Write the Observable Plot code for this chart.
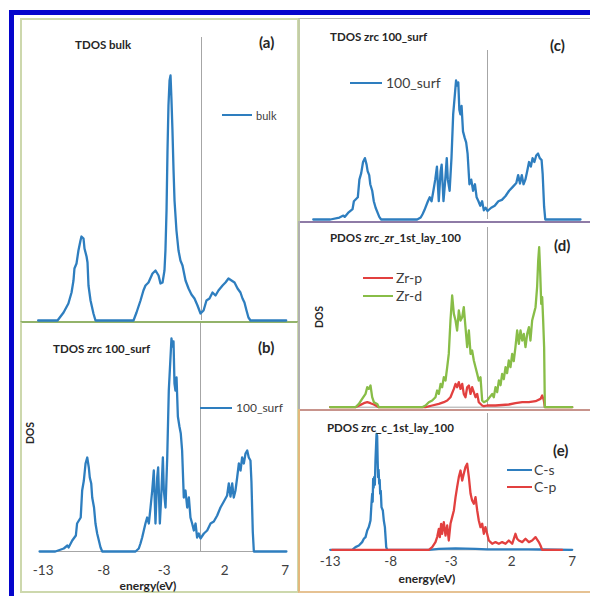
<!DOCTYPE html>
<html><head><meta charset="utf-8">
<script src="https://cdn.jsdelivr.net/npm/d3@7"></script>
<script src="https://cdn.jsdelivr.net/npm/@observablehq/plot@0.6"></script>
<style>
body{margin:0;background:#fff;}
#page{position:relative;width:590px;height:596px;overflow:hidden;font-family:Lato,"Liberation Sans",sans-serif;}
.box{position:absolute;box-sizing:border-box;}
.t{position:absolute;white-space:nowrap;line-height:1;transform:translateY(-50%);color:#262626;}
.c{transform:translate(-50%,-50%);}
.r{transform:translate(-50%,-50%) rotate(-90deg);}
.lg{position:absolute;height:2px;transform:translateY(-50%);}
.layer{position:absolute;left:0;top:0;}
</style></head><body><div id="page"></div>
<script>
// ---------- data: [energy (eV), DOS (arb. units)] ----------
const xTicks = [-13, -8, -3, 2, 7];

const bulk = [[-13.5,0],[-11.9,0],[-11.4,0.8],[-11.0,1.7],[-10.74,2.8],[-10.58,4.0],[-10.5,5.2],[-10.33,5.7],[-10.17,7.0],[-10.0,8.0],[-9.92,8.4],[-9.75,8.2],[-9.67,7.2],[-9.5,6.4],[-9.42,5.8],[-9.34,3.5],[-9.17,2.0],[-8.93,0.7],[-8.76,0],
[-5.62,0],[-5.37,0.8],[-5.04,2.0],[-4.8,3.0],[-4.63,3.5],[-4.38,3.8],[-4.05,4.7],[-3.8,5.0],[-3.55,4.5],[-3.39,3.7],[-3.22,3.8],[-3.06,5.0],[-2.98,7.0],[-2.89,11.0],[-2.81,17.0],[-2.73,21.5],[-2.64,24.0],[-2.56,24.5],[-2.48,22.0],[-2.4,19.0],[-2.31,15.0],[-2.23,12.0],[-2.07,9.0],[-1.9,7.0],[-1.74,6.0],[-1.57,5.5],[-1.32,4.0],[-1.07,3.2],[-0.83,2.6],[-0.58,2.2],[-0.33,1.5],[-0.08,0.7],
[0.17,1.0],[0.41,2.0],[0.66,2.2],[0.91,2.8],[1.16,2.5],[1.4,3.0],[1.74,3.5],[1.98,3.8],[2.23,4.2],[2.48,4.0],[2.73,3.8],[2.98,3.2],[3.22,2.8],[3.39,2.2],[3.55,1.8],[3.72,1.0],[3.88,0.3],[4.05,0],[7.0,0]];

const surf100 = [[-13.3,0],[-12.0,0],[-11.3,0.3],[-11.0,0.6],[-10.9,0.4],[-10.6,1.1],[-10.3,1.6],[-10.2,2.8],[-9.9,3.4],[-9.78,6.1],[-9.64,7.1],[-9.5,8.8],[-9.36,9.4],[-9.23,8.4],[-9.15,7.4],[-9.03,6.8],[-8.95,5.4],[-8.8,4.4],[-8.68,2.8],[-8.54,1.8],[-8.26,0.4],[-8.12,0],
[-5.37,0],[-5.1,0.3],[-4.96,0.8],[-4.82,1.4],[-4.55,2.8],[-4.41,3.4],[-4.27,2.8],[-4.13,4.4],[-3.99,6.1],[-3.86,8.1],[-3.72,2.8],[-3.58,7.4],[-3.5,8.4],[-3.36,2.8],[-3.25,5.4],[-3.11,9.4],[-3.03,6.1],[-2.89,4.4],[-2.75,9.4],[-2.62,16.1],[-2.48,19.4],[-2.4,21.3],[-2.31,20.5],[-2.23,21.0],[-2.15,16.8],[-2.07,16.1],[-1.98,17.4],[-1.87,13.5],[-1.74,12.5],[-1.63,11.8],[-1.52,10.1],[-1.38,5.4],[-1.24,6.1],[-1.1,4.4],[-0.96,5.4],[-0.83,3.4],[-0.69,2.8],[-0.55,2.1],[-0.41,2.8],[-0.28,1.4],[-0.14,1.8],[0,1.3],
[0.28,1.8],[0.55,2.1],[0.83,2.8],[1.1,3.0],[1.38,3.6],[1.65,4.4],[1.93,5.0],[2.2,5.6],[2.34,6.8],[2.48,5.5],[2.62,6.8],[2.75,5.4],[2.89,6.1],[3.03,7.4],[3.17,8.8],[3.31,8.1],[3.44,9.4],[3.58,8.8],[3.72,9.8],[3.86,10.1],[3.99,9.4],[4.13,9.1],[4.21,7.0],[4.32,2.0],[4.41,0],[7.1,0]];

const zrP = [[-13,0],[-10.91,0],[-10.5,0.23],[-10.22,0.4],[-9.94,0.5],[-9.67,0.4],[-9.39,0.27],[-8.98,0],[-5.12,0],[-4.57,0.17],[-4.02,0.33],[-3.61,0.5],[-3.33,0.67],[-3.06,1.0],[-2.78,1.83],[-2.64,2.33],[-2.51,2.0],[-2.37,2.5],[-2.23,1.83],[-2.09,2.33],[-1.96,1.33],[-1.82,1.0],[-1.68,2.0],[-1.54,2.17],[-1.4,1.33],[-1.27,2.0],[-1.13,1.5],[-0.99,1.0],[-0.85,1.33],[-0.72,0.5],[-0.44,0.17],[-0.3,0.1],[-0.03,0.17],[0.66,0.17],[1.76,0.27],[2.31,0.4],[2.87,0.5],[3.42,0.5],[3.97,0.6],[4.38,0.83],[4.52,1.17],[4.66,0.67],[4.74,0],[7,0]];

const zrD = [[-13,0],[-10.91,0],[-10.63,0.33],[-10.36,0.83],[-10.08,1.33],[-9.94,2.0],[-9.81,1.83],[-9.67,2.17],[-9.53,1.0],[-9.39,0.5],[-9.12,0.33],[-8.98,0],[-5.4,0],[-5.12,0.17],[-4.85,0.5],[-4.57,0.67],[-4.3,1.0],[-4.16,1.67],[-4.02,1.33],[-3.88,2.33],[-3.75,2.0],[-3.61,3.0],[-3.47,2.67],[-3.33,4.0],[-3.2,5.33],[-3.06,8.67],[-2.92,11.17],[-2.78,9.33],[-2.64,8.67],[-2.51,7.67],[-2.37,9.67],[-2.23,8.67],[-2.09,9.0],[-1.96,10.0],[-1.82,8.0],[-1.68,6.0],[-1.54,7.67],[-1.4,5.33],[-1.27,5.67],[-1.13,4.67],[-0.99,4.0],[-0.85,3.33],[-0.72,2.67],[-0.58,3.0],[-0.44,0.67],[-0.3,0.5],[-0.03,0.67],
[0.39,1.33],[0.52,1.0],[0.66,2.0],[0.8,1.5],[0.94,2.67],[1.08,2.2],[1.21,3.33],[1.35,2.8],[1.49,4.0],[1.62,3.4],[1.76,4.67],[1.9,4.0],[2.04,5.33],[2.17,4.6],[2.31,6.0],[2.45,7.67],[2.59,6.33],[2.73,7.67],[2.87,6.67],[3.0,7.33],[3.14,6.0],[3.28,7.33],[3.42,8.0],[3.55,6.67],[3.69,8.67],[3.83,9.33],[3.97,10.0],[4.1,12.0],[4.19,14.67],[4.27,16.0],[4.35,13.67],[4.44,10.33],[4.52,11.0],[4.6,8.67],[4.68,6.0],[4.74,0],[7,0]];

const cS = [[-13,0],[-11.18,0],[-10.91,0.27],[-10.63,0.43],[-10.36,0.77],[-10.22,1.1],[-10.08,1.27],[-9.94,1.93],[-9.81,2.27],[-9.67,2.93],[-9.59,4.6],[-9.53,5.6],[-9.49,4.8],[-9.45,7.1],[-9.41,6.2],[-9.37,7.27],[-9.31,6.5],[-9.26,8.9],[-9.17,11.6],[-9.12,11.4],[-9.08,9.0],[-9.04,7.27],[-9.0,8.0],[-8.95,6.6],[-8.91,7.0],[-8.87,5.6],[-8.82,5.9],[-8.76,4.27],[-8.65,3.93],[-8.57,2.93],[-8.48,2.27],[-8.37,0.27],[-8.29,0],[-4.85,0],[-4.02,0.1],[-2.64,0.15],[-0.99,0.1],[0,0.05],[3.4,0.05],[4.5,0.03],[7,0]];

const cP = [[-12.84,0],[-4.85,0],[-4.57,0.27],[-4.3,0.77],[-4.16,1.27],[-4.02,2.1],[-3.94,1.27],[-3.83,2.6],[-3.75,1.6],[-3.61,2.77],[-3.47,1.43],[-3.33,2.43],[-3.2,0.93],[-3.06,2.6],[-2.92,3.27],[-2.78,3.93],[-2.64,5.27],[-2.51,6.27],[-2.37,7.27],[-2.23,7.93],[-2.09,6.93],[-1.96,7.6],[-1.82,8.27],[-1.68,8.6],[-1.54,7.27],[-1.4,5.6],[-1.27,4.93],[-1.13,4.6],[-0.99,5.27],[-0.85,3.93],[-0.72,2.93],[-0.58,2.27],[-0.44,2.6],[-0.3,1.6],[-0.17,2.27],[-0.03,1.6],[0.11,0.93],[0.25,0.77],[0.39,0.6],[0.66,0.77],[0.94,0.6],[1.21,0.77],[1.49,0.6],[1.76,0.93],[2.04,0.6],[2.31,1.6],[2.45,1.1],[2.59,0.93],[2.87,0.77],[3.14,1.1],[3.42,0.77],[3.69,0.93],[3.97,1.27],[4.24,0.77],[4.38,0.43],[4.52,0],[6.17,0]];

const BLUE = "#2e7ebf", RED = "#e2403f", GREEN = "#88bd47", GRAY = "#a6a6a6";
const toRows = arr => arr.map(([e, v]) => ({e, v}));

const page = document.getElementById("page");
function el(tag, cls, css, text) {
  const d = document.createElement(tag);
  if (cls) d.className = cls;
  Object.assign(d.style, css);
  if (text != null) d.textContent = text;
  page.appendChild(d);
  return d;
}

// ---------- frames ----------
el("div", "box", {left: "9px", top: "10px", width: "620px", height: "620px", border: "5px solid #0505cc"});
el("div", "box", {left: "20px", top: "18px", width: "279px", height: "305px", border: "2px solid #cdd8ad"});
el("div", "box", {left: "20px", top: "321px", width: "279px", height: "272px", border: "2px solid #cdd8ad", borderTopColor: "#93b36a"});
el("div", "box", {left: "298px", top: "18px", width: "310px", height: "205px", borderLeft: "2px solid #c3cda6", borderTop: "1px solid #b5b5b5", borderBottom: "2px solid #8e7ba6"});
el("div", "box", {left: "298px", top: "221px", width: "310px", height: "190px", borderLeft: "2px solid #b0b0b0", borderBottom: "2px solid #c8948c"});
el("div", "box", {left: "298px", top: "409px", width: "310px", height: "184px", borderLeft: "2px solid #e3b87c", borderBottom: "2px solid #e6c293"});

// ---------- panels ----------
function drawPanel(cfg) {
  const {x0, k, base, top, unit, series, ticks, tickPadding, axisLine} = cfg;
  const left = x0 - 13 * k, right = x0 + 7 * k;
  const marks = [];
  if (axisLine) marks.push(Plot.ruleY([0], {stroke: GRAY, strokeWidth: 1}));
  marks.push(Plot.ruleX([0], {stroke: GRAY, strokeWidth: 1}));
  for (const s of series) marks.push(Plot.line(toRows(s.data), {x: "e", y: "v", stroke: s.color, strokeWidth: 2.3, strokeLinejoin: "round"}));
  const svg = Plot.plot({
    width: 590, height: 596,
    marginLeft: left, marginRight: 590 - right, marginTop: top, marginBottom: 596 - base,
    x: ticks
      ? {domain: [-13, 7], ticks: xTicks, tickSize: 0, tickPadding, tickFormat: d => String(d), label: null}
      : {domain: [-13, 7], axis: null},
    y: {domain: [0, (base - top) / unit], axis: null},
    style: {background: "transparent", fontFamily: "Lato, 'Liberation Sans', sans-serif", fontSize: "13.5px", color: "#404040", overflow: "visible"},
    marks
  });
  const wrap = el("div", "layer", {});
  wrap.appendChild(svg);
}

drawPanel({x0: 201, k: 12.1, base: 320, top: 37, unit: 10, series: [{data: bulk, color: BLUE}]});
drawPanel({x0: 200, k: 12.1, base: 551, top: 323, unit: 10, series: [{data: surf100, color: BLUE}], ticks: true, tickPadding: 14, axisLine: true});
drawPanel({x0: 487, k: 13.1, base: 219, top: 50, unit: 6.53, series: [{data: surf100, color: BLUE}]});
drawPanel({x0: 487, k: 12.1, base: 406.7, top: 227, unit: 10, series: [{data: zrP, color: RED}, {data: zrD, color: GREEN}], axisLine: true});
drawPanel({x0: 487, k: 12.1, base: 549.3, top: 413, unit: 10, series: [{data: cS, color: BLUE}, {data: cP, color: RED}], ticks: true, tickPadding: 7, axisLine: true});

// ---------- texts ----------
const titleCss = {fontWeight: "700", fontSize: "11.5px", color: "#262626"};
const tagCss = {fontWeight: "700", fontSize: "15px", color: "#262626"};
function txt(x, y, s, css, cls = "t") { el("div", cls, Object.assign({left: x + "px", top: y + "px"}, css), s); }
function legend(x1, x2, y, color, label, tx, size) {
  el("div", "lg", {left: x1 + "px", top: y + "px", width: (x2 - x1) + "px", background: color});
  txt(tx, y, label, {fontSize: size + "px", color: "#404040"});
}

txt(75, 45, "TDOS bulk", titleCss);
txt(259, 42, "(a)", tagCss);
legend(222, 252, 115, BLUE, "bulk", 256, 11);

txt(53, 349, "TDOS zrc 100_surf", titleCss);
txt(258, 347, "(b)", tagCss);
legend(200, 232, 408, BLUE, "100_surf", 236, 12);
txt(30, 433, "DOS", {fontWeight: "700", fontSize: "10.5px"}, "t r");
txt(148, 586, "energy(eV)", {fontWeight: "700", fontSize: "12px"}, "t c");

txt(330, 37, "TDOS zrc 100_surf", titleCss);
txt(550, 45, "(c)", tagCss);
legend(350, 382, 83, BLUE, "100_surf", 386, 14);

txt(330, 238, "PDOS zrc_zr_1st_lay_100", titleCss);
txt(554, 245, "(d)", tagCss);
legend(363, 393, 278, RED, "Zr-p", 396, 14);
legend(363, 393, 296, GREEN, "Zr-d", 396, 14);
txt(319, 317, "DOS", {fontWeight: "700", fontSize: "10.5px"}, "t r");

txt(327, 428, "PDOS zrc_c_1st_lay_100", titleCss);
txt(553, 450, "(e)", tagCss);
legend(507, 532, 470, BLUE, "C-s", 534, 14);
legend(507, 532, 487, RED, "C-p", 534, 14);
txt(427, 579, "energy(eV)", {fontWeight: "700", fontSize: "12px"}, "t c");
</script></body></html>
